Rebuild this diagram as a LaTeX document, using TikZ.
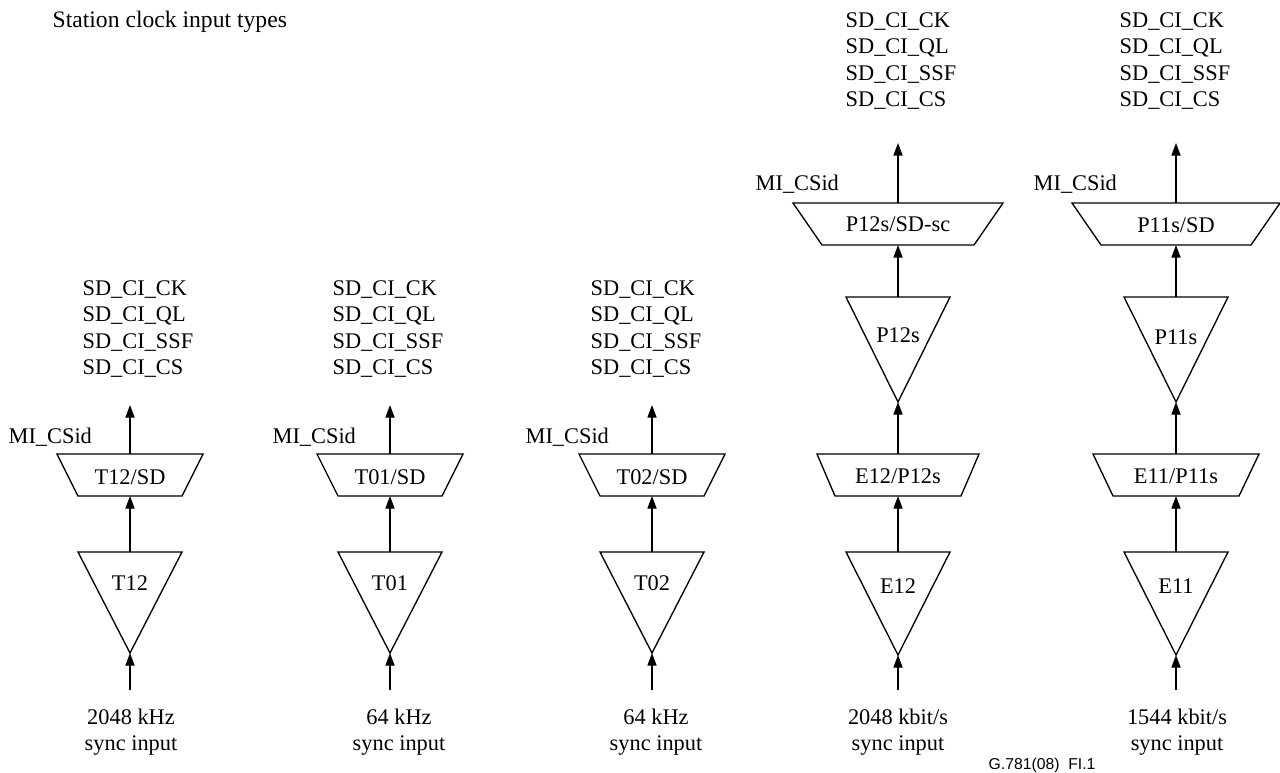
\documentclass[tikz,border=0pt]{standalone}
\usepackage{fontspec}
\setmainfont{Liberation Serif}
\newfontfamily\arialfont{Liberation Sans}
\usetikzlibrary{arrows.meta}
% triangle: name, x, top y, tip y, half width, label baseline, text
\newcommand\mytri[7]{%
  \draw[shp] (#2-#5,#3) -- (#2+#5,#3) -- (#2,#4) -- cycle;
  \coordinate (#1top) at (#2,#3);
  \coordinate (#1tip) at (#2,#4);
  \node[lbl,anchor=base] (#1) at (#2,#6) {#7};}
% trapezoid: name, x, top y, bottom y, top half width, bottom half width, label baseline, text
\newcommand\mytrap[8]{%
  \draw[shp] (#2-#5,#3) -- (#2+#5,#3) -- (#2+#6,#4) -- (#2-#6,#4) -- cycle;
  \coordinate (#1top) at (#2,#3);
  \coordinate (#1bot) at (#2,#4);
  \node[lbl,anchor=base] (#1) at (#2,#7) {#8};}
% signal block: name, left x, first baseline
\newcommand\sdblock[3]{%
  \node[lbl,anchor=base west] (#1ck) at (#2,#3) {SD\_CI\_CK};
  \node[lbl,anchor=base west] (#1ql) at (#2,#3+26.5) {SD\_CI\_QL};
  \node[lbl,anchor=base west] (#1ssf) at (#2,#3+53) {SD\_CI\_SSF};
  \node[lbl,anchor=base west] (#1cs) at (#2,#3+79.5) {SD\_CI\_CS};}
% input label: name, x, line1, line2
\newcommand\inlbl[4]{%
  \node[lbl,anchor=base] (#1a) at (#2,724) {#3};
  \node[lbl,anchor=base] (#1b) at (#2,750) {#4};}
\begin{document}
\begin{tikzpicture}[x=0.025cm,y=-0.025cm,line width=0.95pt,
  lbl/.style={inner sep=0pt,font=\fontsize{15.9pt}{19pt}\selectfont},
  conn/.style={-{Triangle[length=9pt,width=6.5pt]}},
  shp/.style={draw,line join=miter}]
\useasboundingbox (0,0) rectangle (1280,772);

\node[inner sep=0pt,anchor=base west,font=\fontsize{16.8pt}{20pt}\selectfont] (title) at (52,27) {Station clock input types};

% ---- column 1: T12
\mytri{ta}{130}{552}{653}{52}{590}{T12}
\mytrap{tasd}{130}{454}{496}{73}{52}{484}{T12/SD}
\coordinate (tain) at (130,690);
\coordinate (taout) at (130,405);
\inlbl{ina}{131}{2048 kHz}{sync input}
\node[lbl,anchor=base west] (mia) at (8,443) {MI\_CSid};
\sdblock{sda}{82}{295}
\draw[conn] (tain) -- (tatip);
\draw[conn] (tatop) -- (tasdbot);
\draw[conn] (tasdtop) -- (taout);

% ---- column 2: T01
\mytri{tb}{390}{552}{653}{52}{590}{T01}
\mytrap{tbsd}{390}{454}{496}{73}{52}{484}{T01/SD}
\coordinate (tbin) at (390,690);
\coordinate (tbout) at (390,405);
\inlbl{inb}{399}{64 kHz}{sync input}
\node[lbl,anchor=base west] (mib) at (272,443) {MI\_CSid};
\sdblock{sdb}{332}{295}
\draw[conn] (tbin) -- (tbtip);
\draw[conn] (tbtop) -- (tbsdbot);
\draw[conn] (tbsdtop) -- (tbout);

% ---- column 3: T02
\mytri{tc}{652}{552}{653}{52}{590}{T02}
\mytrap{tcsd}{652}{454}{496}{73}{52}{484}{T02/SD}
\coordinate (tcin) at (652,690);
\coordinate (tcout) at (652,405);
\inlbl{inc}{656}{64 kHz}{sync input}
\node[lbl,anchor=base west] (mic) at (525,443) {MI\_CSid};
\sdblock{sdc}{590}{295}
\draw[conn] (tcin) -- (tctip);
\draw[conn] (tctop) -- (tcsdbot);
\draw[conn] (tcsdtop) -- (tcout);

% ---- column 4: E12
\mytri{ea}{898}{552}{655}{52}{593}{E12}
\mytrap{eap}{898}{454}{496}{81}{63}{483}{E12/P12s}
\mytri{pa}{898}{297}{402}{52}{342}{P12s}
\mytrap{pasd}{898}{203}{245}{105}{76}{231}{P12s/SD-sc}
\coordinate (eain) at (898,690);
\coordinate (paout) at (898,143);
\inlbl{ind}{898}{2048 kbit/s}{sync input}
\node[lbl,anchor=base west] (mid) at (755,190) {MI\_CSid};
\sdblock{sdd}{845}{27}
\draw[conn] (eain) -- (eatip);
\draw[conn] (eatop) -- (eapbot);
\draw[conn] (eaptop) -- (patip);
\draw[conn] (patop) -- (pasdbot);
\draw[conn] (pasdtop) -- (paout);

% ---- column 5: E11
\mytri{eb}{1176}{552}{655}{52}{593}{E11}
\mytrap{ebp}{1176}{454}{496}{83}{63}{483}{E11/P11s}
\mytri{pb}{1176}{297}{402}{52}{344}{P11s}
\mytrap{pbsd}{1176}{203}{245}{104}{75}{232}{P11s/SD}
\coordinate (ebin) at (1176,690);
\coordinate (pbout) at (1176,143);
\inlbl{ine}{1177}{1544 kbit/s}{sync input}
\node[lbl,anchor=base west] (mie) at (1033,190) {MI\_CSid};
\sdblock{sde}{1119}{27}
\draw[conn] (ebin) -- (ebtip);
\draw[conn] (ebtop) -- (ebpbot);
\draw[conn] (ebptop) -- (pbtip);
\draw[conn] (pbtop) -- (pbsdbot);
\draw[conn] (pbsdtop) -- (pbout);

\node[inner sep=0pt,anchor=base west,font=\arialfont\fontsize{11.2pt}{13pt}\selectfont] (figid) at (988,769) {G.781(08)\ \ FI.1};
\end{tikzpicture}
\end{document}
